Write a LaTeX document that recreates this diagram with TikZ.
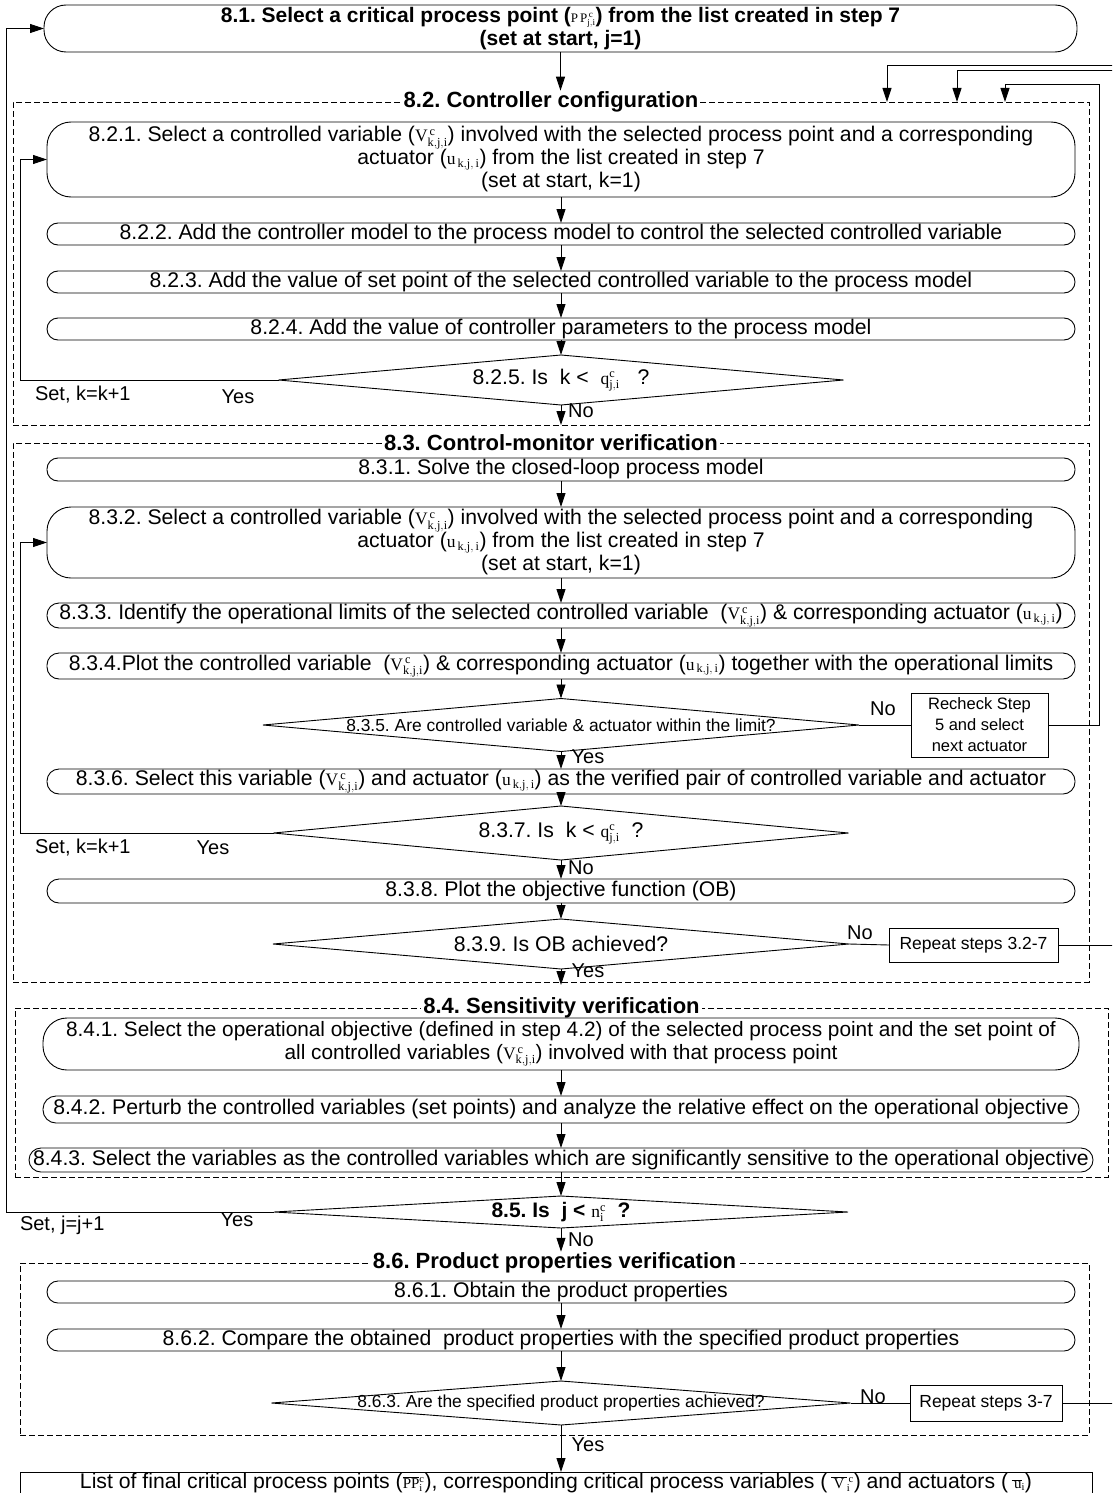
\documentclass[tikz,border=0pt]{standalone}
\usepackage{fontspec}
\setmainfont{Liberation Sans}
\setmathrm{Liberation Serif}
\usetikzlibrary{arrows.meta,shapes.geometric}
\frenchspacing

% type sizes (1pt in the picture = one unit)
\newcommand{\mainfs}{\fontsize{21.2}{23}\selectfont}
\newcommand{\boldfs}{\fontsize{21}{23}\selectfont\bfseries}
\newcommand{\titlefs}{\fontsize{22}{24}\selectfont\bfseries}
\newcommand{\lblfs}{\fontsize{20}{22}\selectfont}
\newcommand{\smallfs}{\fontsize{17.4}{19}\selectfont}
\newcommand{\notefs}{\fontsize{16.5}{21}\selectfont}
\newcommand{\repfs}{\fontsize{17.5}{20}\selectfont}

% small serif symbols
\newcommand{\symfs}{\fontsize{17.5}{17.5}\selectfont\mdseries}
\newcommand{\Vkji}{{\symfs$\mathrm{V}^{\mathrm{\,c}}_{\mathrm{k,j,i}}$}}
\newcommand{\ukji}{{\symfs$\mathrm{u}_{\mathrm{\,k,j,\,i}}$}}
\newcommand{\qji}{{\symfs$\mathrm{q}^{\mathrm{c}}_{\mathrm{j,i}}$}}
\newcommand{\nci}{{\symfs$\mathrm{n}^{\mathrm{c}}_{\mathrm{i}}$}}
\newcommand{\PPji}{{\fontsize{13}{13}\selectfont\mdseries$\mathrm{P\,P}^{\mathrm{\,c}}_{\mathrm{j,i}}$}}
\newcommand{\finfs}{\fontsize{15}{15}\selectfont\mdseries}
\newcommand{\PPbar}{{\finfs$\overline{\mathrm{PP}}{}^{\mathrm{c}}_{\mathrm{i}}$}}
\newcommand{\Vbar}{{\finfs$\overline{\,\mathrm{V}\,}{}^{\mathrm{\,c}}_{\mathrm{i}}$}}
\newcommand{\ubar}{{\finfs$\overline{\,\mathrm{u}}_{\mathrm{i}}$}}

\begin{document}
\begin{tikzpicture}[x=1pt,y=-1pt,
  line width=0.9pt,
  every node/.style={inner sep=0pt, outer sep=0pt},
  rbox/.style={draw, rounded corners=#1, align=center, font=\mainfs},
  diam/.style={draw, diamond, inner sep=0pt},
  sqbox/.style={draw, align=center},
  cont/.style={draw, dash pattern=on 6pt off 3pt, line width=0.8pt},
  ttl/.style={fill=white, font=\titlefs, inner xsep=2pt, inner ysep=1pt},
  lbl/.style={font=\lblfs},
  dtext/.style={font=\mainfs},
  arr/.style={-{Triangle[length=14pt,width=9pt]}},
]
\useasboundingbox (0,0) rectangle (1112,1493);
\clip (0,0) rectangle (1112,1493);

% loop columns
\coordinate (jx) at (6,0);
\coordinate (kx) at (20,0);

% ---------- 8.1 ----------
\node[rbox=22, minimum width=1033, minimum height=47, font=\boldfs] (b81) at (560.5,28.5)
  {8.1. Select a critical process point (\PPji) from the list created in step 7\\(set at start, j=1)};

% ---------- 8.2 ----------
\node[cont, minimum width=1076, minimum height=323] (c82) at (551,263.5) {};
\node[ttl] (t82) at (c82.north) {8.2. Controller configuration};

\node[rbox=24, minimum width=1028, minimum height=75] (b821) at (561,159.5)
  {8.2.1. Select a controlled variable (\Vkji) involved with the selected process point and a corresponding\\
   actuator (\ukji) from the list created in step 7\\(set at start, k=1)};
\node[rbox=11, minimum width=1028, minimum height=22] (b822) at (561,234)
  {8.2.2. Add the controller model to the process model to control the selected controlled variable};
\node[rbox=11, minimum width=1028, minimum height=22] (b823) at (561,282)
  {8.2.3. Add the value of set point of the selected controlled variable to the process model};
\node[rbox=11, minimum width=1028, minimum height=22] (b824) at (561,329)
  {8.2.4. Add the value of controller parameters to the process model};
\node[diam, minimum width=565, minimum height=50] (d825) at (561,380) {};
\node[dtext] (d825t) at (d825.center) {8.2.5. Is\ \ k <\ \ \qji\ \ \ ?};

% ---------- 8.3 ----------
\node[cont, minimum width=1076, minimum height=539] (c83) at (551,712.5) {};
\node[ttl] (t83) at (c83.north) {8.3. Control-monitor verification};

\node[rbox=11, minimum width=1028, minimum height=23] (b831) at (561,469.5)
  {8.3.1. Solve the closed-loop process model};
\node[rbox=24, minimum width=1028, minimum height=71] (b832) at (561,542.5)
  {8.3.2. Select a controlled variable (\Vkji) involved with the selected process point and a corresponding\\
   actuator (\ukji) from the list created in step 7\\(set at start, k=1)};
\node[rbox=12, minimum width=1028, minimum height=25] (b833) at (561,615.5)
  {8.3.3. Identify the operational limits of the selected controlled variable\ \ (\Vkji) \& corresponding actuator (\ukji)};
\node[rbox=12, minimum width=1028, minimum height=26] (b834) at (561,666)
  {8.3.4.Plot the controlled variable\ \ (\Vkji) \& corresponding actuator (\ukji) together with the operational limits};
\node[diam, minimum width=596, minimum height=53] (d835) at (561,725) {};
\node[dtext, font=\smallfs] (d835t) at (d835.center) {8.3.5. Are controlled variable \& actuator within the limit?};
\node[sqbox, font=\notefs, minimum width=137, minimum height=64] (r835) at (979.5,725)
  {Recheck Step\\5 and select\\next actuator};
\node[rbox=12, minimum width=1028, minimum height=25] (b836) at (561,781.5)
  {8.3.6. Select this variable (\Vkji) and actuator (\ukji) as the verified pair of controlled variable and actuator};
\node[diam, minimum width=575, minimum height=54] (d837) at (561,833) {};
\node[dtext] (d837t) at (d837.center) {8.3.7. Is\ \ k < \qji\ \ ?};
\node[rbox=12, minimum width=1028, minimum height=24] (b838) at (561,891)
  {8.3.8. Plot the objective function (OB)};
\node[diam, minimum width=576, minimum height=50] (d839) at (561,944) {};
\node[dtext] (d839t) at (d839.center) {8.3.9. Is OB achieved?};
\node[sqbox, font=\repfs, minimum width=169, minimum height=34] (r839) at (973.5,945) {Repeat steps 3.2-7};

% ---------- 8.4 ----------
\node[cont, minimum width=1093, minimum height=169] (c84) at (561.5,1092.5) {};
\node[ttl] (t84) at (c84.north) {8.4. Sensitivity verification};

\node[rbox=24, minimum width=1036, minimum height=52, font=\fontsize{20.8}{23}\selectfont] (b841) at (561,1044)
  {8.4.1. Select the operational objective (defined in step 4.2) of the selected process point and the set point of\\
   all controlled variables (\Vkji) involved with that process point};
\node[rbox=13, minimum width=1036, minimum height=27] (b842) at (561,1109.5)
  {8.4.2. Perturb the controlled variables (set points) and analyze the relative effect on the operational objective};
\node[rbox=12, minimum width=1064, minimum height=24] (b843) at (561,1160)
  {8.4.3. Select the variables as the controlled variables which are significantly sensitive to the operational objective};

% ---------- 8.5 ----------
\node[diam, minimum width=574, minimum height=32] (d85) at (561,1212) {};
\node[dtext, font=\boldfs] (d85t) at (d85.center) {8.5. Is\ \ j < \nci\ \ ?};

% ---------- 8.6 ----------
\node[cont, minimum width=1069, minimum height=172] (c86) at (554.5,1349) {};
\node[ttl] (t86) at (c86.north) {8.6. Product properties verification};

\node[rbox=11, minimum width=1028, minimum height=22] (b861) at (561,1292)
  {8.6.1. Obtain the product properties};
\node[rbox=11, minimum width=1028, minimum height=22] (b862) at (561,1340)
  {8.6.2. Compare the obtained\ \ product properties with the specified product properties};
\node[diam, minimum width=579, minimum height=44] (d863) at (561,1403) {};
\node[dtext, font=\smallfs] (d863t) at (d863.center) {8.6.3. Are the specified product properties achieved?};
\node[sqbox, font=\repfs, minimum width=152, minimum height=36] (r863) at (986,1403) {Repeat steps 3-7};

% ---------- result ----------
\node[draw, minimum width=1072, minimum height=30] (fin) at (556,1487) {};
\node[font=\mainfs] (fint) at (556,1482.5)
  {List of final critical process points (\PPbar), corresponding critical process variables (\,\Vbar) and actuators (\,\ubar)};

% ---------- main flow ----------
\draw[arr] (b81.south) -- (b81.south |- t82.north);
\draw[arr] (b821.south) -- (b822.north);
\draw[arr] (b822.south) -- (b823.north);
\draw[arr] (b823.south) -- (b824.north);
\draw[arr] (b824.south) -- (d825.north);
\draw[arr] (d825.south) -- (d825.south |- c82.south);

\draw[arr] (b831.south) -- (b832.north);
\draw[arr] (b832.south) -- (b833.north);
\draw[arr] (b833.south) -- (b834.north);
\draw[arr] (b834.south) -- (d835.north);
\draw[arr] (d835.south) -- (b836.north);
\draw[arr] (b836.south) -- (d837.north);
\draw[arr] (d837.south) -- (b838.north);
\draw[arr] (b838.south) -- (d839.north);
\draw[arr, shorten >=-3pt] (d839.south) -- (d839.south |- c83.south);

\draw[arr] (b841.south) -- (b842.north);
\draw[arr] (b842.south) -- (b843.north);
\draw[arr] (b843.south) -- (d85.north);
\draw[arr] (d85.south) -- (d85.south |- t86.north);

\draw[arr] (b861.south) -- (b862.north);
\draw[arr] (b862.south) -- (d863.north);
\draw[arr] (d863.south) -- (d863.south |- fin.north);

% ---------- loops back ----------
\draw[arr] (d825.west) -- (d825.west -| kx) |- (b821.west);
\draw[arr] (d837.west) -- (d837.west -| kx) |- (b832.west);
\draw[arr] (d85.west) -- (d85.west -| jx) |- (b81.west);

\draw (d835.east) -- (r835.west);
\draw (d839.east) -- (r839.west);
\draw (d863.east) -- (r863.west);

\coordinate (v1) at (1099,84);  \coordinate (a1) at (1005,84);
\coordinate (v2) at (1114,70);  \coordinate (a2) at (957,70);
\coordinate (v3) at (1118,65);  \coordinate (a3) at (887,65);
\draw[arr] (r835.east) -| (v1) -- (a1) -- (a1 |- c82.north);
\draw[arr] (r839.east) -| (v2) -- (a2) -- (a2 |- c82.north);
\draw[arr] (r863.east) -| (v3) -- (a3) -- (a3 |- c82.north);

% ---------- branch labels ----------
\node[lbl] (no825) at (581,411) {No};
\node[lbl, anchor=west] (set825) at (35,395) {Set, k=k+1};
\node[lbl] (yes825) at (238,397) {Yes};

\node[lbl] (no835) at (883,709) {No};
\node[lbl] (yes835) at (588,757) {Yes};

\node[lbl] (no837) at (581,868) {No};
\node[lbl, anchor=west] (set837) at (35,848) {Set, k=k+1};
\node[lbl] (yes837) at (213,848) {Yes};

\node[lbl] (no839) at (860,933) {No};
\node[lbl] (yes839) at (588,971) {Yes};

\node[lbl] (no85) at (581,1240) {No};
\node[lbl, anchor=west] (set85) at (20,1225) {Set, j=j+1};
\node[lbl] (yes85) at (237,1220) {Yes};

\node[lbl] (no863) at (873,1397) {No};
\node[lbl] (yes863) at (588,1445) {Yes};
\end{tikzpicture}
\end{document}
